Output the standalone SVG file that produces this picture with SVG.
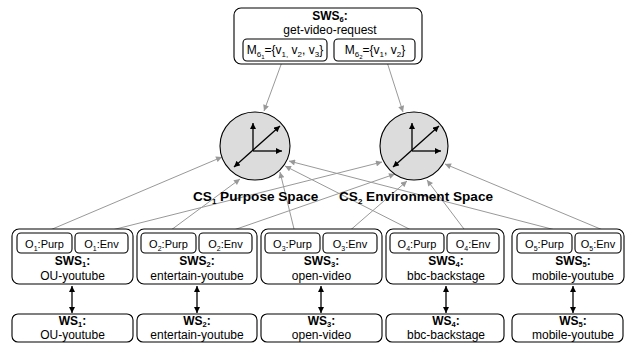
<svg xmlns="http://www.w3.org/2000/svg" width="625" height="347" viewBox="0 0 625 347">
<defs>
<style>
.box{fill:#fff;stroke:#000;stroke-width:1.1}
.t{font-family:"Liberation Sans",Arial,sans-serif;font-size:12px;text-anchor:middle;fill:#000}
.b{font-weight:bold}
.o{font-size:11px}
.cs{font-family:"Liberation Sans",Arial,sans-serif;font-size:13.6px;font-weight:bold;fill:#000}
.gl{stroke:#999;stroke-width:1;fill:none;marker-end:url(#ga)}
.ax{stroke:#000;stroke-width:1.3;fill:none;marker-end:url(#ba)}
.ax2{stroke:#000;stroke-width:1.3;fill:none;marker-end:url(#ba);marker-start:url(#bs)}
.da{stroke:#000;stroke-width:1.3;fill:none;marker-end:url(#ba);marker-start:url(#bs)}
.cir{fill:#dcdcdc;stroke:#000;stroke-width:1.1}
</style>
<marker id="ga" viewBox="0 0 10 10" refX="10" refY="5" markerWidth="7" markerHeight="6" markerUnits="userSpaceOnUse" orient="auto"><path d="M0,0 L10,5 L0,10 z" fill="#999"/></marker>
<marker id="ba" viewBox="0 0 10 10" refX="10" refY="5" markerWidth="7" markerHeight="6" markerUnits="userSpaceOnUse" orient="auto"><path d="M0,0 L10,5 L0,10 z" fill="#000"/></marker>
<marker id="bs" viewBox="0 0 10 10" refX="0" refY="5" markerWidth="7" markerHeight="6" markerUnits="userSpaceOnUse" orient="auto"><path d="M10,0 L0,5 L10,10 z" fill="#000"/></marker>
</defs>
<rect width="625" height="347" fill="#fff"/>

<g id="connectors">
<line class="gl" x1="282" y1="62" x2="264" y2="111"/>
<line class="gl" x1="387" y1="62" x2="403" y2="112"/>
<line class="gl" x1="43" y1="233" x2="222" y2="157"/>
<line class="gl" x1="100" y1="233" x2="382" y2="162"/>
<line class="gl" x1="167" y1="233" x2="240" y2="179"/>
<line class="gl" x1="225" y1="233" x2="395" y2="174"/>
<line class="gl" x1="295" y1="233" x2="280" y2="172"/>
<line class="gl" x1="347" y1="233" x2="407" y2="181"/>
<line class="gl" x1="417" y1="233" x2="285" y2="166"/>
<line class="gl" x1="467" y1="233" x2="427" y2="180"/>
<line class="gl" x1="567" y1="233" x2="289" y2="161"/>
<line class="gl" x1="610" y1="233" x2="445" y2="164"/>
<line class="da" x1="72" y1="286" x2="72" y2="313"/>
<line class="da" x1="197" y1="286" x2="197" y2="313"/>
<line class="da" x1="321" y1="286" x2="321" y2="313"/>
<line class="da" x1="446" y1="286" x2="446" y2="313"/>
<line class="da" x1="573" y1="286" x2="573" y2="313"/>
</g>

<g id="sws6">
<rect class="box" x="234" y="8" width="188" height="56" rx="7"/>
<text class="t b" x="330" y="20">SWS<tspan font-size="7.5" dy="2">6</tspan><tspan dy="-2">:</tspan></text>
<text class="t" x="330" y="34">get-video-request</text>
<rect class="box" x="243" y="39" width="84" height="22" rx="4"/>
<text class="t" x="285" y="54">M<tspan font-size="8" dy="3">6</tspan><tspan font-size="6" dy="2">1</tspan><tspan dy="-5">={v</tspan><tspan font-size="8" dy="3">1,</tspan><tspan dy="-3"> v</tspan><tspan font-size="8" dy="3">2</tspan><tspan dy="-3">, v</tspan><tspan font-size="8" dy="3">3</tspan><tspan dy="-3">}</tspan></text>
<rect class="box" x="334" y="39" width="81" height="22" rx="4"/>
<text class="t" x="375" y="54">M<tspan font-size="8" dy="3">6</tspan><tspan font-size="6" dy="2">2</tspan><tspan dy="-5">={v</tspan><tspan font-size="8" dy="3">1</tspan><tspan dy="-3">, v</tspan><tspan font-size="8" dy="3">2</tspan><tspan dy="-3">}</tspan></text>
</g>

<g id="cs1">
<ellipse class="cir" cx="255" cy="146" rx="35" ry="34"/>
<line class="ax" x1="253" y1="151" x2="253" y2="123"/>
<line class="ax" x1="253" y1="151" x2="282" y2="151"/>
<line class="ax2" x1="234" y1="167" x2="280" y2="126"/>
<text class="cs" x="193" y="201">CS<tspan font-size="8" dy="3">1</tspan><tspan dy="-3"> Purpose Space</tspan></text>
</g>

<g id="cs2">
<ellipse class="cir" cx="414" cy="146" rx="34" ry="34"/>
<line class="ax" x1="412" y1="151" x2="412" y2="123"/>
<line class="ax" x1="412" y1="151" x2="441" y2="151"/>
<line class="ax2" x1="393" y1="167" x2="439" y2="126"/>
<text class="cs" x="339" y="201">CS<tspan font-size="8" dy="3">2</tspan><tspan dy="-3"> Environment Space</tspan></text>
</g>

<g id="sws1">
<rect class="box" x="12" y="229" width="121" height="55" rx="7"/>
<rect class="box" x="17" y="233" width="55" height="20" rx="4"/>
<text class="t o" x="44.5" y="248">O<tspan font-size="7" dy="2.5">1</tspan><tspan dy="-2.5">:Purp</tspan></text>
<rect class="box" x="75" y="233" width="53" height="20" rx="4"/>
<text class="t o" x="101.5" y="248">O<tspan font-size="7" dy="2.5">1</tspan><tspan dy="-2.5">:Env</tspan></text>
<text class="t b" x="72.5" y="265">SWS<tspan font-size="7.5" dy="2">1</tspan><tspan dy="-2">:</tspan></text>
<text class="t" x="72.5" y="280">OU-youtube</text>
</g>
<g id="sws2">
<rect class="box" x="137" y="229" width="120" height="55" rx="7"/>
<rect class="box" x="141" y="233" width="55" height="20" rx="4"/>
<text class="t o" x="168.5" y="248">O<tspan font-size="7" dy="2.5">2</tspan><tspan dy="-2.5">:Purp</tspan></text>
<rect class="box" x="199" y="233" width="53" height="20" rx="4"/>
<text class="t o" x="225.5" y="248">O<tspan font-size="7" dy="2.5">2</tspan><tspan dy="-2.5">:Env</tspan></text>
<text class="t b" x="197" y="265">SWS<tspan font-size="7.5" dy="2">2</tspan><tspan dy="-2">:</tspan></text>
<text class="t" x="197" y="280">entertain-youtube</text>
</g>
<g id="sws3">
<rect class="box" x="261" y="229" width="121" height="55" rx="7"/>
<rect class="box" x="265" y="233" width="55" height="20" rx="4"/>
<text class="t o" x="292.5" y="248">O<tspan font-size="7" dy="2.5">3</tspan><tspan dy="-2.5">:Purp</tspan></text>
<rect class="box" x="323" y="233" width="54" height="20" rx="4"/>
<text class="t o" x="350" y="248">O<tspan font-size="7" dy="2.5">3</tspan><tspan dy="-2.5">:Env</tspan></text>
<text class="t b" x="321.5" y="265">SWS<tspan font-size="7.5" dy="2">3</tspan><tspan dy="-2">:</tspan></text>
<text class="t" x="321.5" y="280">open-video</text>
</g>
<g id="sws4">
<rect class="box" x="386" y="229" width="118" height="55" rx="7"/>
<rect class="box" x="390" y="233" width="54" height="20" rx="4"/>
<text class="t o" x="417" y="248">O<tspan font-size="7" dy="2.5">4</tspan><tspan dy="-2.5">:Purp</tspan></text>
<rect class="box" x="447" y="233" width="52" height="20" rx="4"/>
<text class="t o" x="473" y="248">O<tspan font-size="7" dy="2.5">4</tspan><tspan dy="-2.5">:Env</tspan></text>
<text class="t b" x="446" y="265">SWS<tspan font-size="7.5" dy="2">4</tspan><tspan dy="-2">:</tspan></text>
<text class="t" x="446" y="280">bbc-backstage</text>
</g>
<g id="sws5">
<rect class="box" x="512" y="229" width="112" height="55" rx="7"/>
<rect class="box" x="517" y="233" width="55" height="20" rx="4"/>
<text class="t o" x="544.5" y="248">O<tspan font-size="7" dy="2.5">5</tspan><tspan dy="-2.5">:Purp</tspan></text>
<rect class="box" x="575" y="233" width="46" height="20" rx="4"/>
<text class="t o" x="598" y="248">O<tspan font-size="7" dy="2.5">5</tspan><tspan dy="-2.5">:Env</tspan></text>
<text class="t b" x="573" y="265">SWS<tspan font-size="7.5" dy="2">5</tspan><tspan dy="-2">:</tspan></text>
<text class="t" x="573" y="280">mobile-youtube</text>
</g>

<g id="ws1">
<rect class="box" x="12" y="314" width="121" height="28" rx="6"/>
<text class="t b" x="72.5" y="325">WS<tspan font-size="7.5" dy="2">1</tspan><tspan dy="-2">:</tspan></text>
<text class="t" x="72.5" y="339">OU-youtube</text>
</g>
<g id="ws2">
<rect class="box" x="137" y="314" width="120" height="28" rx="6"/>
<text class="t b" x="197" y="325">WS<tspan font-size="7.5" dy="2">2</tspan><tspan dy="-2">:</tspan></text>
<text class="t" x="197" y="339">entertain-youtube</text>
</g>
<g id="ws3">
<rect class="box" x="261" y="314" width="121" height="28" rx="6"/>
<text class="t b" x="321.5" y="325">WS<tspan font-size="7.5" dy="2">3</tspan><tspan dy="-2">:</tspan></text>
<text class="t" x="321.5" y="339">open-video</text>
</g>
<g id="ws4">
<rect class="box" x="386" y="314" width="118" height="28" rx="6"/>
<text class="t b" x="446" y="325">WS<tspan font-size="7.5" dy="2">4</tspan><tspan dy="-2">:</tspan></text>
<text class="t" x="446" y="339">bbc-backstage</text>
</g>
<g id="ws5">
<rect class="box" x="512" y="314" width="111" height="28" rx="6"/>
<text class="t b" x="573" y="325">WS<tspan font-size="7.5" dy="2">5</tspan><tspan dy="-2">:</tspan></text>
<text class="t" x="573" y="339">mobile-youtube</text>
</g>
</svg>
